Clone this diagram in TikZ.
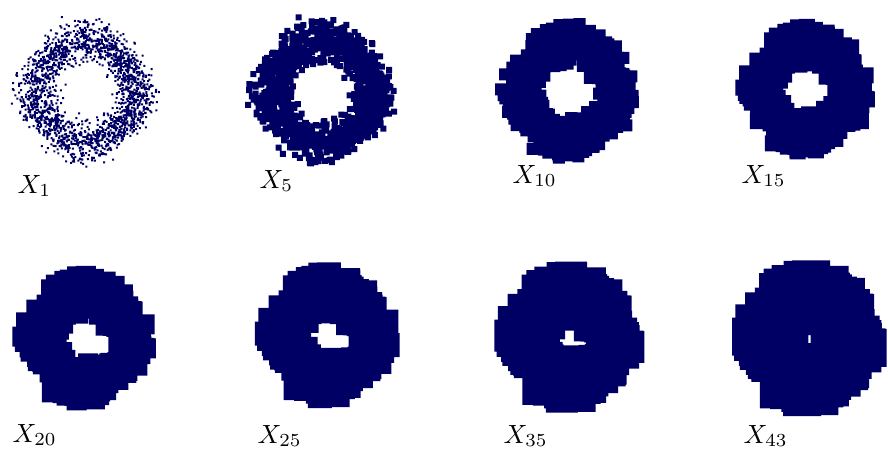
\documentclass[tikz,border=0pt]{standalone}
\usepackage{xcolor}
\usepackage{tikz}
\usetikzlibrary{positioning}

\definecolor{cloudblue}{RGB}{0,0,100}

% one ring of points, each point grown into a square
% #1,#2 centre, #3 radius scale, #4 half side of the squares, #5 number of points
\newcommand{\ringcloud}[5]{%
  \pgfmathsetseed{4711}%
  \fill[cloud] \foreach \p in {1,...,#5}{
    (#1,#2) ++({360*rnd}:{#3*(49+10.5*(rand+rand+rand))}) ++(-#4,-#4) rectangle ++(2*#4,2*#4)
  };
}

\begin{document}
\begin{tikzpicture}[
        x=0.38pt, y=-0.38pt,
        cloud/.style={fill=cloudblue},
        stage/.style={anchor=base west, inner sep=0pt}
    ]
        \useasboundingbox (0,0) rectangle (888,453);

        % Top row
        \ringcloud{86}{92}{1.02}{1}{1900}
        \ringcloud{323}{93}{1.03}{3}{1300}
        \ringcloud{570}{92}{0.96}{6}{700}
        \ringcloud{808}{90}{0.90}{8}{500}

        % Bottom row
        \ringcloud{87}{339}{0.90}{10}{400}
        \ringcloud{330}{336}{0.88}{12}{350}
        \ringcloud{572}{338}{0.86}{16}{300}
        \ringcloud{812}{339}{0.85}{19}{300}

        % Labels
        \node[stage] (lab1)  at (17,193)  {$X_{1}$};
        \node[stage] (lab5)  at (259,188) {$X_{5}$};
        \node[stage] (lab10) at (512,183) {$X_{10}$};
        \node[stage] (lab15) at (741,183) {$X_{15}$};
        \node[stage] (lab20) at (12,442)  {$X_{20}$};
        \node[stage] (lab25) at (257,443) {$X_{25}$};
        \node[stage] (lab35) at (503,443) {$X_{35}$};
        \node[stage] (lab43) at (743,443) {$X_{43}$};

    \end{tikzpicture}
\end{document}
